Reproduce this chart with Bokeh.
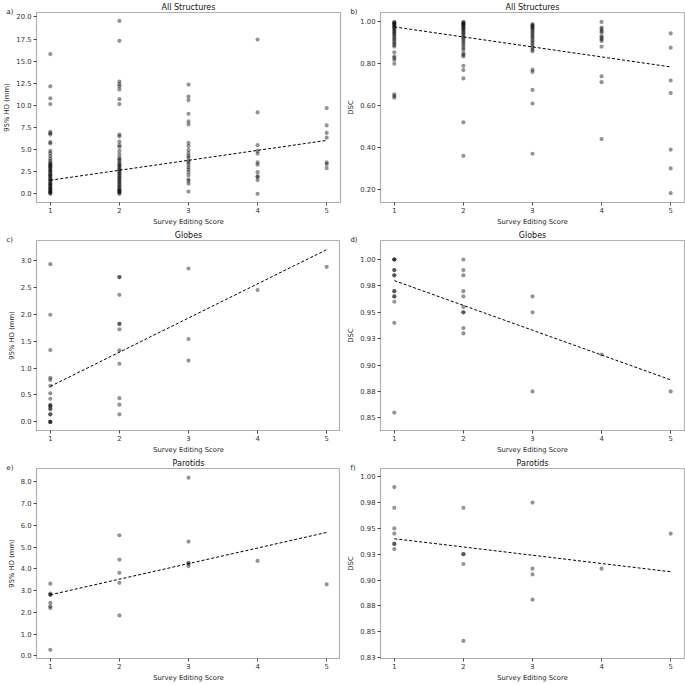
from bokeh.plotting import figure
from bokeh.layouts import gridplot
from bokeh.models import Title, Range1d, FixedTicker
from bokeh.embed import file_html
from bokeh.resources import INLINE

# ---------------- data ----------------
scores = [1, 2, 3, 4, 5]
trend_x = [1, 5]

# a) All Structures, 95% HD (mm)
hd_all = {
    1: [15.8, 12.15, 10.8, 10.15, 7.0, 6.85, 6.7, 5.85, 5.7, 4.85, 4.6, 4.3, 4.0, 3.75, 3.55,
        3.4, 3.3, 3.2, 3.1, 3.0, 2.85, 2.7, 2.6, 2.5, 2.35, 2.2, 2.1, 2.0, 1.85, 1.7, 1.6,
        1.5, 1.35, 1.2, 1.1, 1.0, 0.9, 0.75, 0.65, 0.55, 0.45, 0.35, 0.25, 0.15, 0.08, 0.0],
    2: [19.55, 17.3, 12.7, 12.4, 12.15, 11.8, 10.7, 10.15, 6.7, 6.5, 5.9, 5.5, 5.3, 4.85,
        4.45, 4.1, 3.9, 3.75, 3.5, 3.35, 3.2, 3.05, 2.9, 2.75, 2.6, 2.45, 2.3, 2.15, 2.0,
        1.85, 1.7, 1.55, 1.4, 1.25, 1.1, 0.95, 0.8, 0.65, 0.5, 0.4, 0.3, 0.2, 0.1, 0.0],
    3: [12.35, 11.0, 10.6, 9.05, 8.2, 7.85, 5.75, 5.4, 4.95, 4.6, 4.3, 4.1, 3.75, 3.55,
        3.3, 3.0, 2.75, 2.45, 2.1, 1.65, 1.45, 1.15, 0.25],
    4: [17.45, 9.2, 5.5, 4.85, 4.55, 3.55, 3.3, 2.45, 2.0, 1.9, 1.55, 0.0],
    5: [9.7, 7.75, 6.9, 6.35, 3.55, 3.35, 2.9],
}
hd_all_trend = [1.54, 6.04]

# b) All Structures, DSC
dsc_all = {
    1: [1.0, 0.997, 0.994, 0.99, 0.986, 0.982, 0.978, 0.973, 0.968, 0.962, 0.956, 0.95,
        0.944, 0.937, 0.93, 0.922, 0.915, 0.906, 0.898, 0.89, 0.882, 0.855, 0.835, 0.827,
        0.818, 0.80, 0.654, 0.646, 0.638],
    2: [1.0, 0.997, 0.993, 0.989, 0.985, 0.98, 0.975, 0.97, 0.964, 0.958, 0.951, 0.945,
        0.938, 0.93, 0.922, 0.914, 0.905, 0.896, 0.886, 0.876, 0.866, 0.85, 0.843, 0.835,
        0.79, 0.77, 0.73, 0.52, 0.36],
    3: [0.99, 0.985, 0.98, 0.975, 0.97, 0.963, 0.956, 0.948, 0.94, 0.932, 0.924, 0.915,
        0.906, 0.897, 0.888, 0.878, 0.868, 0.86, 0.772, 0.761, 0.675, 0.61, 0.37],
    4: [1.0, 0.973, 0.966, 0.956, 0.95, 0.932, 0.925, 0.917, 0.909, 0.882, 0.74, 0.712, 0.44],
    5: [0.945, 0.877, 0.72, 0.66, 0.39, 0.30, 0.182],
}
dsc_all_trend = [0.976, 0.785]

# c) Globes, 95% HD (mm)
hd_glb = {
    1: [2.93, 1.99, 1.335, 0.82, 0.78, 0.67, 0.53, 0.43, 0.32, 0.3, 0.29, 0.25, 0.23,
        0.14, 0.14, 0.0, 0.0, 0.0],
    2: [2.69, 2.69, 2.36, 1.82, 1.82, 1.72, 1.33, 1.08, 0.44, 0.32, 0.14],
    3: [2.85, 1.54, 1.14],
    4: [2.45],
    5: [2.88],
}
hd_glb_trend = [0.66, 3.2]

# d) Globes, DSC
dsc_glb = {
    1: [1.0, 1.0, 1.0, 0.99, 0.99, 0.985, 0.985, 0.97, 0.97, 0.965, 0.965, 0.96, 0.94, 0.855],
    2: [1.0, 0.99, 0.985, 0.97, 0.965, 0.955, 0.95, 0.95, 0.935, 0.93],
    3: [0.965, 0.95, 0.875],
    4: [0.91],
    5: [0.875],
}
dsc_glb_trend = [0.98, 0.886]

# e) Parotids, 95% HD (mm)
hd_par = {
    1: [3.32, 2.87, 2.81, 2.81, 2.44, 2.28, 2.2, 0.28],
    2: [5.55, 4.43, 3.82, 3.36, 1.86],
    3: [8.2, 5.26, 4.28, 4.24, 4.13],
    4: [4.37],
    5: [3.29],
}
hd_par_trend = [2.81, 5.68]

# f) Parotids, DSC
dsc_par = {
    1: [0.99, 0.97, 0.95, 0.945, 0.935, 0.935, 0.93],
    2: [0.97, 0.925, 0.925, 0.9155, 0.841],
    3: [0.975, 0.911, 0.9055, 0.881],
    4: [0.911],
    5: [0.945],
}
dsc_par_trend = [0.94, 0.908]

# tick values / labels
ticks_hd_all = [0.0, 2.5, 5.0, 7.5, 10.0, 12.5, 15.0, 17.5, 20.0]
labels_hd_all = ["0.0", "2.5", "5.0", "7.5", "10.0", "12.5", "15.0", "17.5", "20.0"]
ticks_dsc_all = [0.2, 0.4, 0.6, 0.8, 1.0]
labels_dsc_all = ["0.20", "0.40", "0.60", "0.80", "1.00"]
ticks_hd_glb = [0.0, 0.5, 1.0, 1.5, 2.0, 2.5, 3.0]
labels_hd_glb = ["0.0", "0.5", "1.0", "1.5", "2.0", "2.5", "3.0"]
ticks_dsc_glb = [0.85, 0.875, 0.9, 0.925, 0.95, 0.975, 1.0]
labels_dsc_glb = ["0.85", "0.88", "0.90", "0.93", "0.95", "0.98", "1.00"]
ticks_hd_par = [0.0, 1.0, 2.0, 3.0, 4.0, 5.0, 6.0, 7.0, 8.0]
labels_hd_par = ["0.0", "1.0", "2.0", "3.0", "4.0", "5.0", "6.0", "7.0", "8.0"]
ticks_dsc_par = [0.825, 0.85, 0.875, 0.9, 0.925, 0.95, 0.975, 1.0]
labels_dsc_par = ["0.83", "0.85", "0.88", "0.90", "0.93", "0.95", "0.98", "1.00"]

FONT = "DejaVu Sans"
FW, FH = 304, 190


def panel(letter, title, ylabel, data, trend, yr, ticks, labels):
    p = figure(frame_width=FW, frame_height=FH, output_backend="svg",
               toolbar_location=None, x_range=Range1d(0.8, 5.2),
               y_range=Range1d(*yr), min_border_top=0, min_border_right=4,
               min_border_left=0, min_border_bottom=0,
               title=title)
    p.title.align = "center"
    p.title.text_font = FONT
    p.title.text_font_size = "8px"
    p.title.text_font_style = "normal"
    p.title.text_color = "#111111"
    p.title.standoff = 1
    p.grid.visible = False
    p.outline_line_color = "#b0b0b0"
    p.outline_line_width = 1.2
    xs, ys = [], []
    for s in scores:
        for v in data[s]:
            xs.append(s)
            ys.append(v)
    p.scatter(xs, ys, size=4.2, fill_color="black", fill_alpha=0.42, line_color=None)
    p.line(trend_x, trend, line_color="black", line_dash="3 2", line_width=1)

    for ax in (p.xaxis[0], p.yaxis[0]):
        ax.axis_line_color = "#b0b0b0"
        ax.major_tick_line_color = "#444444"
        ax.minor_tick_line_color = None
        ax.major_tick_out = 3
        ax.major_tick_in = 0
        ax.major_label_standoff = 2
        ax.axis_label_standoff = 2
        ax.major_label_text_font = FONT
        ax.major_label_text_font_size = "6.8px"
        ax.major_label_text_color = "#333333"
        ax.axis_label_text_font = FONT
        ax.axis_label_text_font_size = "6.8px"
        ax.axis_label_text_font_style = "normal"
        ax.axis_label_text_color = "#222222"
    p.xaxis.ticker = FixedTicker(ticks=scores)
    p.xaxis.axis_label = "Survey Editing Score"
    p.yaxis.ticker = FixedTicker(ticks=ticks)
    p.yaxis.major_label_overrides = {t: l for t, l in zip(ticks, labels)}
    p.yaxis.axis_label = ylabel

    try:
        lt = Title(text=letter, align="left", offset=-30, vertical_align="top",
                   standoff=-10, text_font=FONT, text_font_size="6.8px",
                   text_font_style="normal", text_color="#111111")
    except Exception:
        lt = Title(text=letter, align="left", offset=-30, standoff=0,
                   text_font=FONT, text_font_size="6.8px",
                   text_font_style="normal", text_color="#111111")
    p.add_layout(lt, "above")
    return p


pa = panel("a)", "All Structures", "95% HD (mm)", hd_all, hd_all_trend, (-0.98, 20.5),
           ticks_hd_all, labels_hd_all)
pb = panel("b)", "All Structures", "DSC", dsc_all, dsc_all_trend, (0.137, 1.045),
           ticks_dsc_all, labels_dsc_all)
pc = panel("c)", "Globes", "95% HD (mm)", hd_glb, hd_glb_trend, (-0.16, 3.37),
           ticks_hd_glb, labels_hd_glb)
pd_ = panel("d)", "Globes", "DSC", dsc_glb, dsc_glb_trend, (0.838, 1.018),
            ticks_dsc_glb, labels_dsc_glb)
pe = panel("e)", "Parotids", "95% HD (mm)", hd_par, hd_par_trend, (-0.12, 8.62),
           ticks_hd_par, labels_hd_par)
pf = panel("f)", "Parotids", "DSC", dsc_par, dsc_par_trend, (0.824, 1.008),
           ticks_dsc_par, labels_dsc_par)

grid = gridplot([[pa, pb], [pc, pd_], [pe, pf]], toolbar_location=None)

open("out.html", "w").write(file_html(grid, INLINE))
